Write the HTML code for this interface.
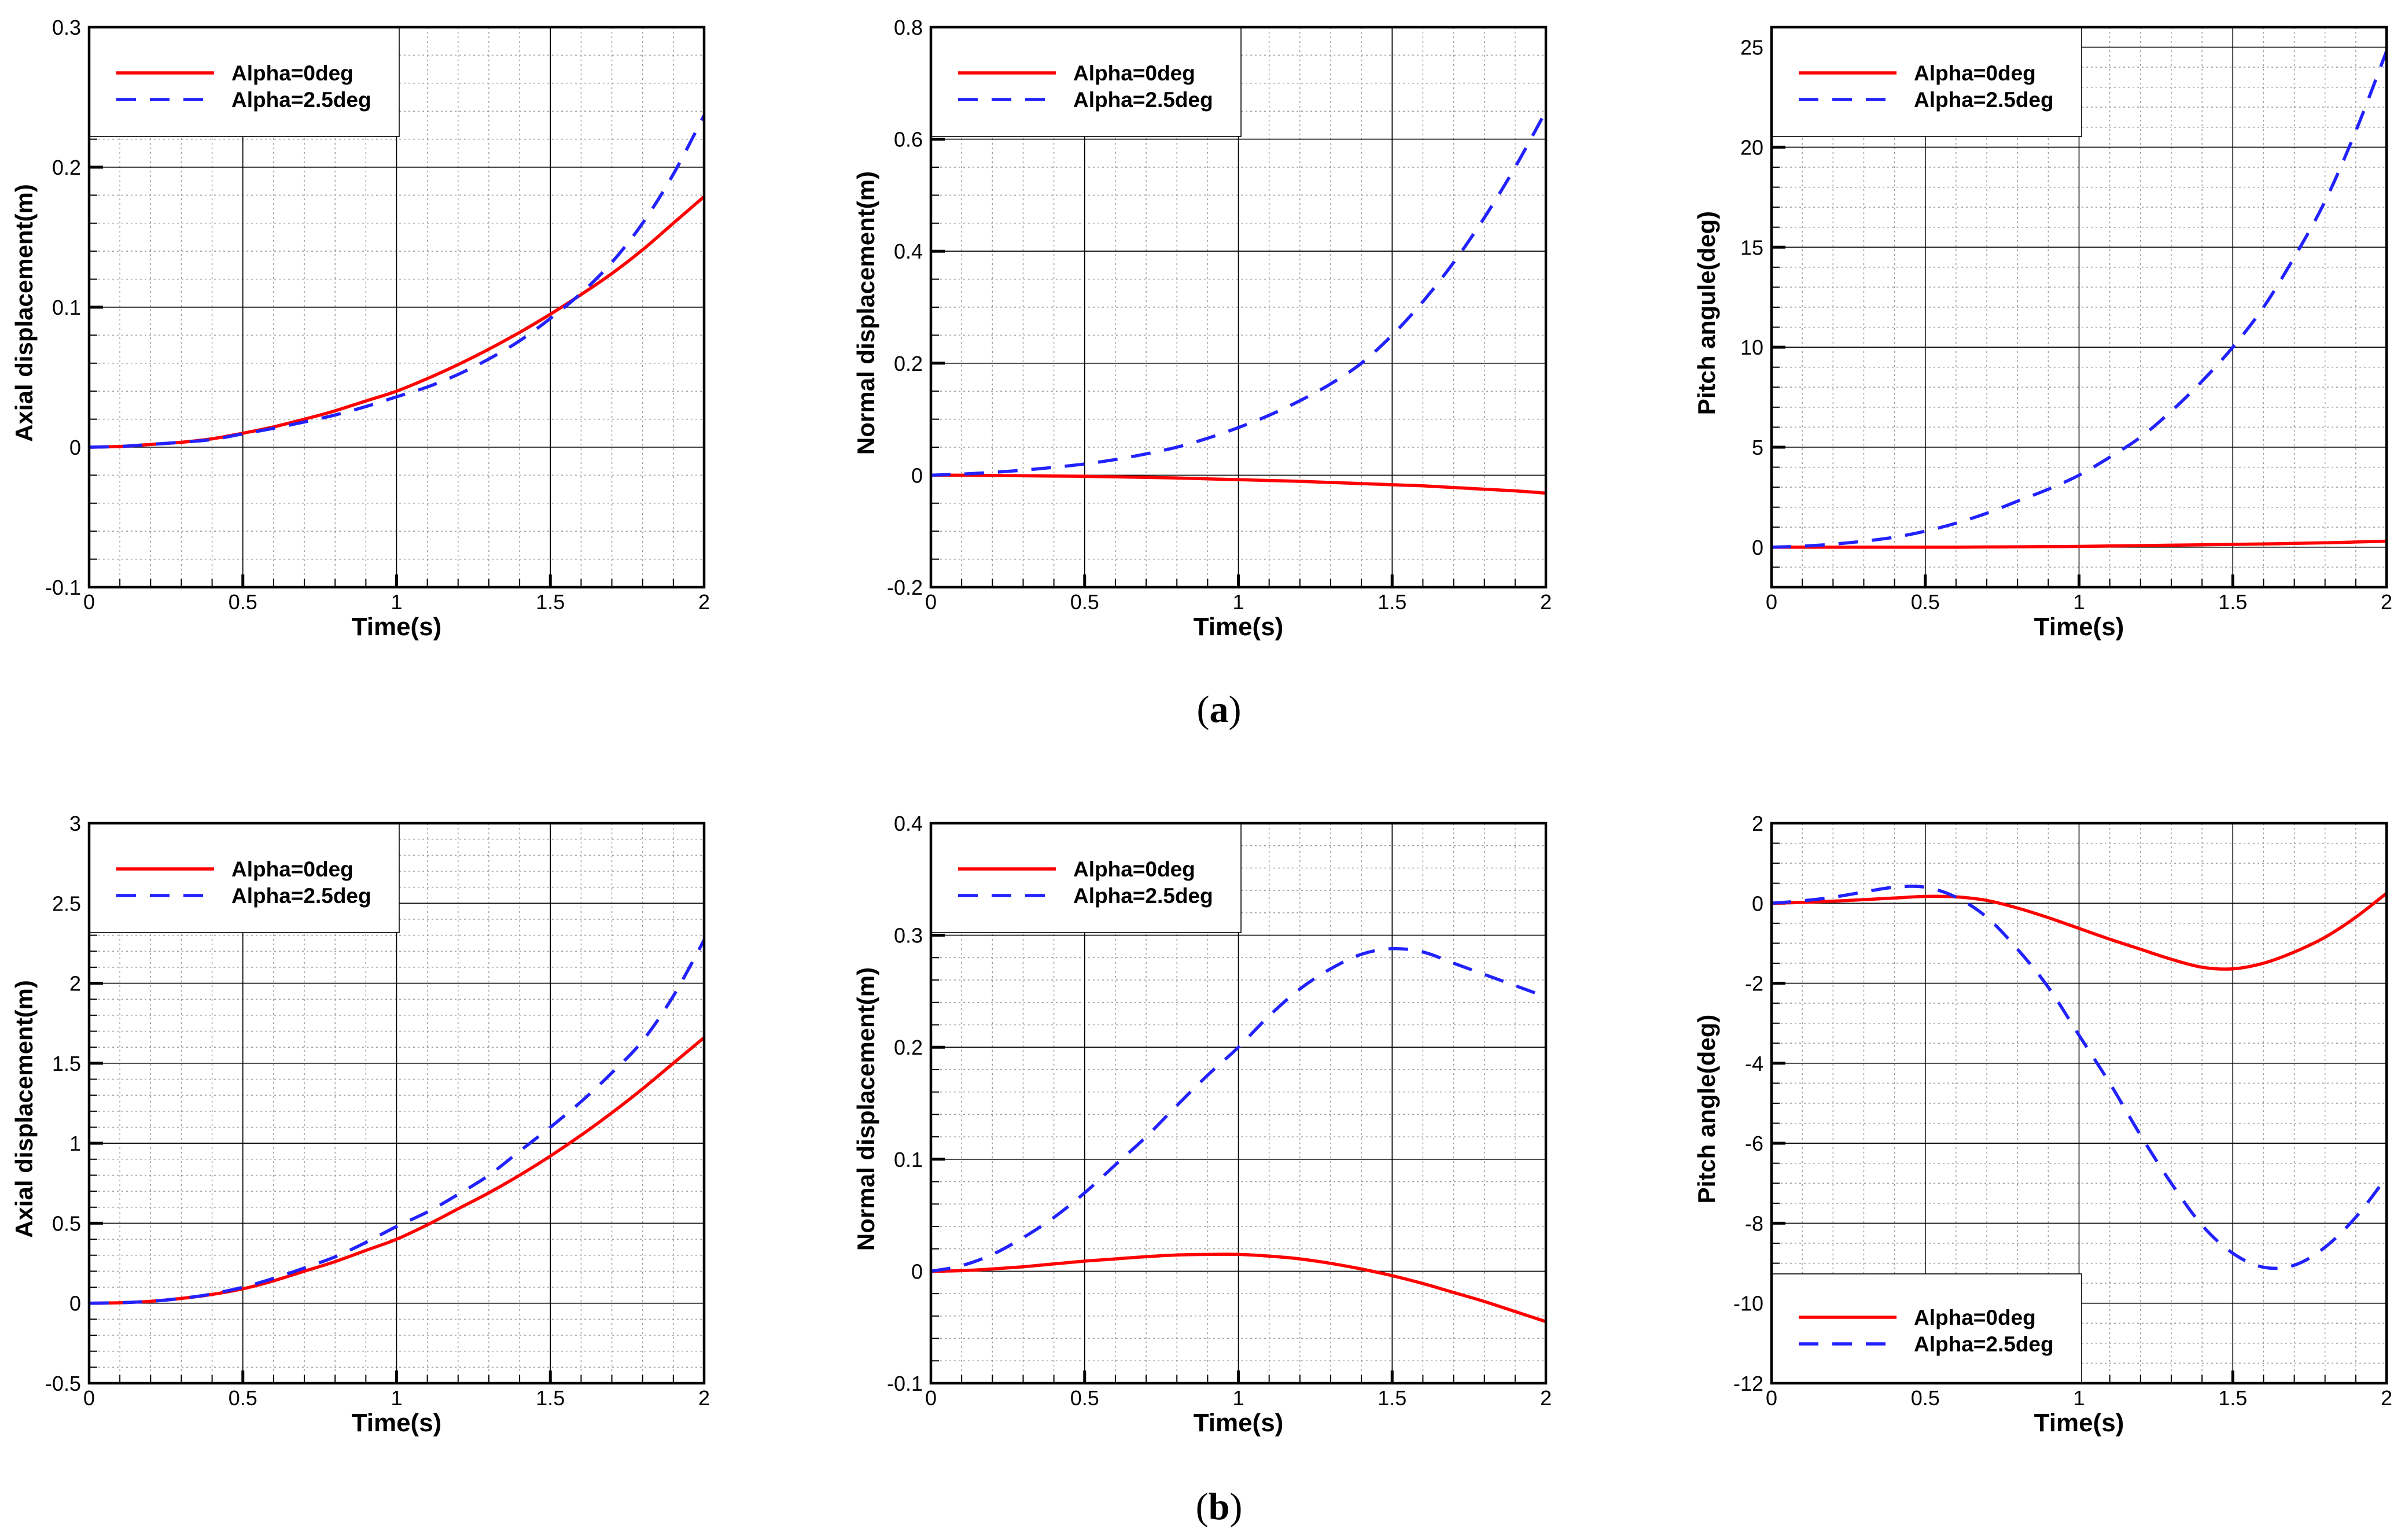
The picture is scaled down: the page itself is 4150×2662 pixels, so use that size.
<!DOCTYPE html>
<html><head><meta charset="utf-8">
<style>
html,body{margin:0;padding:0;background:#fff;}
svg{display:block;}
</style></head>
<body>
<svg id="fig" width="4150" height="2662" viewBox="0 0 4150 2662" xmlns="http://www.w3.org/2000/svg" font-family="Liberation Sans, Arial, sans-serif">
<rect width="4150" height="2662" fill="#fff"/>
<text x="2107" y="1248" text-anchor="middle" font-family="Liberation Serif, serif" font-size="66">(<tspan font-weight="bold">a</tspan>)</text>
<text x="2107" y="2626" text-anchor="middle" font-family="Liberation Serif, serif" font-size="66">(<tspan font-weight="bold">b</tspan>)</text>
</svg>
<script>
// shared time axis
const timeValues = [0,0.1,0.2,0.3,0.4,0.5,0.6,0.7,0.8,0.9,1.0,1.1,1.2,1.3,1.4,1.5,1.6,1.7,1.8,1.9,2.0];
const xTickLabels = ["0","0.5","1","1.5","2"];
const xTickValues = [0,0.5,1,1.5,2];

// panel a1: axial displacement
const a1Red  = [0,0.0005,0.002,0.0035,0.006,0.01,0.0145,0.02,0.026,0.033,0.04,0.049,0.059,0.07,0.082,0.095,0.109,0.124,0.141,0.16,0.179];
const a1Blue = [0,0.0005,0.002,0.0035,0.0055,0.0095,0.0135,0.018,0.023,0.029,0.036,0.043,0.052,0.063,0.076,0.092,0.11,0.132,0.16,0.195,0.237];
const a1YTicks = [-0.1,0,0.1,0.2,0.3];
const a1YLabels = ["-0.1","0","0.1","0.2","0.3"];
// panel a2: normal displacement
const a2Red  = [0,0,-0.0005,-0.001,-0.0015,-0.002,-0.003,-0.004,-0.005,-0.0065,-0.008,-0.0095,-0.011,-0.013,-0.015,-0.017,-0.019,-0.022,-0.025,-0.028,-0.032];
const a2Blue = [0,0.002,0.005,0.009,0.014,0.02,0.028,0.038,0.05,0.066,0.085,0.107,0.133,0.163,0.2,0.25,0.31,0.38,0.46,0.55,0.65];
const a2YTicks = [-0.2,0,0.2,0.4,0.6,0.8];
const a2YLabels = ["-0.2","0","0.2","0.4","0.6","0.8"];
// panel a3: pitch angle
const a3Red  = [0,0,0,0,0,0,0,0.01,0.02,0.03,0.04,0.06,0.08,0.1,0.12,0.14,0.16,0.19,0.22,0.26,0.3];
const a3Blue = [0,0.05,0.15,0.3,0.5,0.8,1.2,1.7,2.3,2.9,3.6,4.5,5.5,6.8,8.3,10.0,12.0,14.5,17.3,20.8,24.8];
const a3YTicks = [0,5,10,15,20,25];
const a3YLabels = ["0","5","10","15","20","25"];
// panel b1: axial displacement
const b1Red  = [0,0.003,0.012,0.03,0.055,0.09,0.14,0.2,0.26,0.33,0.4,0.49,0.59,0.69,0.8,0.92,1.05,1.19,1.34,1.5,1.66];
const b1Blue = [0,0.003,0.012,0.03,0.058,0.1,0.155,0.22,0.29,0.38,0.48,0.57,0.68,0.8,0.95,1.1,1.26,1.44,1.64,1.92,2.27];
const b1YTicks = [-0.5,0,0.5,1,1.5,2,2.5,3];
const b1YLabels = ["-0.5","0","0.5","1","1.5","2","2.5","3"];
// panel b2: normal displacement
const b2Red  = [0,0.0005,0.002,0.004,0.0065,0.009,0.011,0.013,0.0145,0.015,0.015,0.0135,0.011,0.007,0.002,-0.004,-0.011,-0.019,-0.027,-0.036,-0.045];
const b2Blue = [0,0.005,0.015,0.03,0.048,0.07,0.095,0.12,0.148,0.175,0.2,0.228,0.252,0.27,0.283,0.288,0.285,0.275,0.265,0.255,0.245];
const b2YTicks = [-0.1,0,0.1,0.2,0.3,0.4];
const b2YLabels = ["-0.1","0","0.1","0.2","0.3","0.4"];
// panel b3: pitch angle
const b3Red  = [0,0.02,0.05,0.09,0.13,0.17,0.16,0.07,-0.12,-0.36,-0.63,-0.9,-1.15,-1.4,-1.6,-1.64,-1.5,-1.22,-0.85,-0.35,0.25];
const b3Blue = [0,0.06,0.15,0.28,0.4,0.4,0.15,-0.35,-1.15,-2.1,-3.3,-4.5,-5.8,-7.0,-8.05,-8.75,-9.1,-9.05,-8.6,-7.85,-6.85];
const b3YTicks = [-12,-10,-8,-6,-4,-2,0,2];
const b3YLabels = ["-12","-10","-8","-6","-4","-2","0","2"];

const NS = "http://www.w3.org/2000/svg";
const svg = document.getElementById('fig');
function mk(tag, attrs, parent){
  const e = document.createElementNS(NS, tag);
  for (const k in attrs) e.setAttribute(k, attrs[k]);
  (parent||svg).appendChild(e);
  return e;
}

const W = 1063, H = 968;
const panels = [
 {id:'a1', x:154, y:47, ymin:-0.1, ymax:0.3, minor:0.02, yt:a1YTicks, yl:a1YLabels, red:a1Red, blue:a1Blue, title:'Axial displacement(m)', leg:'top'},
 {id:'a2', x:1609, y:47, ymin:-0.2, ymax:0.8, minor:0.05, yt:a2YTicks, yl:a2YLabels, red:a2Red, blue:a2Blue, title:'Normal displacement(m)', leg:'top'},
 {id:'a3', x:3062, y:47, ymin:-2, ymax:26, minor:1, yt:a3YTicks, yl:a3YLabels, red:a3Red, blue:a3Blue, title:'Pitch angule(deg)', leg:'top'},
 {id:'b1', x:154, y:1423, ymin:-0.5, ymax:3, minor:0.1, yt:b1YTicks, yl:b1YLabels, red:b1Red, blue:b1Blue, title:'Axial displacement(m)', leg:'top'},
 {id:'b2', x:1609, y:1423, ymin:-0.1, ymax:0.4, minor:0.02, yt:b2YTicks, yl:b2YLabels, red:b2Red, blue:b2Blue, title:'Normal displacement(m)', leg:'top'},
 {id:'b3', x:3062, y:1423, ymin:-12, ymax:2, minor:0.5, yt:b3YTicks, yl:b3YLabels, red:b3Red, blue:b3Blue, title:'Pitch angle(deg)', leg:'bottom'}
];

function smoothPath(pts){
  let d = 'M' + pts[0][0].toFixed(1) + ',' + pts[0][1].toFixed(1);
  for (let i=0;i<pts.length-1;i++){
    const p0 = pts[Math.max(0,i-1)], p1 = pts[i], p2 = pts[i+1], p3 = pts[Math.min(pts.length-1,i+2)];
    const c1x = p1[0] + (p2[0]-p0[0])/6, c1y = p1[1] + (p2[1]-p0[1])/6;
    const c2x = p2[0] - (p3[0]-p1[0])/6, c2y = p2[1] - (p3[1]-p1[1])/6;
    d += ' C' + c1x.toFixed(1)+','+c1y.toFixed(1)+' '+c2x.toFixed(1)+','+c2y.toFixed(1)+' '+p2[0].toFixed(1)+','+p2[1].toFixed(1);
  }
  return d;
}

panels.forEach(p => {
  const g = mk('g', {});
  
  
  const sx = v => p.x + (v - 0) / 2 * W;
  const sy = v => p.y + H - (v - p.ymin) / (p.ymax - p.ymin) * H;
  const clipId = 'clip-' + p.id;
  const cp = mk('clipPath', {id: clipId}, g);
  mk('rect', {x:p.x, y:p.y, width:W, height:H}, cp);

  const grid = mk('g', {});
  g.appendChild(grid);
  
  
  for (let k=1;k<20;k++){
    const v = k*0.1;
    if (k%5===0) continue;
    mk('line', {x1:sx(v), x2:sx(v), y1:p.y, y2:p.y+H, stroke:'#9a9a9a', 'stroke-width':1.5, 'stroke-dasharray':'3,5'}, grid);
  }
  const nMinor = Math.round((p.ymax-p.ymin)/p.minor);
  for (let k=1;k<nMinor;k++){
    const v = p.ymin + k*p.minor;
    if (p.yt.some(t => Math.abs(t - v) < 1e-6)) continue;
    mk('line', {x1:p.x, x2:p.x+W, y1:sy(v), y2:sy(v), stroke:'#9a9a9a', 'stroke-width':1.5, 'stroke-dasharray':'3,5'}, grid);
  }
  xTickValues.forEach(v => {
    mk('line', {x1:sx(v), x2:sx(v), y1:p.y, y2:p.y+H, stroke:'#000', 'stroke-width':1.6}, grid);
  });
  p.yt.forEach(v => {
    mk('line', {x1:p.x, x2:p.x+W, y1:sy(v), y2:sy(v), stroke:'#000', 'stroke-width':1.6}, grid);
  });

  for (let k=1;k<20;k++){
    const v = k*0.1;
    mk('line', {x1:sx(v), x2:sx(v), y1:p.y+H, y2:p.y+H-(k%5===0?22:14), stroke:'#000', 'stroke-width':k%5===0?5:2}, g);
  }
  for (let k=1;k<nMinor;k++){
    const v = p.ymin + k*p.minor;
    const major = p.yt.some(t => Math.abs(t - v) < 1e-6);
    mk('line', {x1:p.x, x2:p.x+(major?24:14), y1:sy(v), y2:sy(v), stroke:'#000', 'stroke-width':major?5:2}, g);
  }

  const redPts = timeValues.map((t,i)=>[sx(t), sy(p.red[i])]);
  const bluePts = timeValues.map((t,i)=>[sx(t), sy(p.blue[i])]);
  const rl = mk('path', {d:smoothPath(redPts), fill:'none', stroke:'#ff0000', 'stroke-width':5.5, 'clip-path':'url(#'+clipId+')'}, g);
  
  
  const bl = mk('path', {d:smoothPath(bluePts), fill:'none', stroke:'#2222ff', 'stroke-width':5.5, 'stroke-dasharray':'34,24', 'clip-path':'url(#'+clipId+')'}, g);
  
  

  const lg = mk('g', {}, g);
  
  
  const ly = p.leg === 'top' ? p.y : p.y + H - 189;
  mk('rect', {x:p.x, y:ly, width:536, height:189, fill:'#fff', stroke:'#000', 'stroke-width':1.6}, lg);
  const r1 = p.leg === 'top' ? ly + 79 : ly + 75;
  const r2 = r1 + 46;
  mk('line', {x1:p.x+47, x2:p.x+216, y1:r1, y2:r1, stroke:'#ff0000', 'stroke-width':5.5}, lg);
  mk('line', {x1:p.x+47, x2:p.x+216, y1:r2, y2:r2, stroke:'#2222ff', 'stroke-width':5.5, 'stroke-dasharray':'34,24'}, lg);
  const t1 = mk('text', {x:p.x+246, y:r1+13, 'font-size':37, 'font-weight':'bold'}, lg);
  t1.textContent = 'Alpha=0deg';
  
  
  const t2 = mk('text', {x:p.x+246, y:r2+13, 'font-size':37, 'font-weight':'bold'}, lg);
  t2.textContent = 'Alpha=2.5deg';
  
  

  const fr = mk('rect', {x:p.x, y:p.y, width:W, height:H, fill:'none', stroke:'#000', 'stroke-width':4.5}, g);
  
  

  xTickValues.forEach((v,i) => {
    const t = mk('text', {x:sx(v), y:p.y+H+38, 'font-size':36, 'text-anchor':'middle'}, g);
    t.textContent = xTickLabels[i];
    
    
  });
  p.yt.forEach((v,i) => {
    const t = mk('text', {x:p.x-14, y:sy(v)+13, 'font-size':36, 'text-anchor':'end'}, g);
    t.textContent = p.yl[i];
    
    
  });
  const xt = mk('text', {x:p.x+W/2, y:p.y+H+83, 'font-size':44, 'font-weight':'bold', 'text-anchor':'middle'}, g);
  xt.textContent = 'Time(s)';
  
  
  const cx = p.x - 98, cy = p.y + H/2 + 10;
  const yt = mk('text', {x:cx, y:cy, 'font-size':42, 'font-weight':'bold', 'text-anchor':'middle', transform:'rotate(-90 '+cx+' '+cy+')'}, g);
  yt.textContent = p.title;
  
  
});
</script>
</body></html>
